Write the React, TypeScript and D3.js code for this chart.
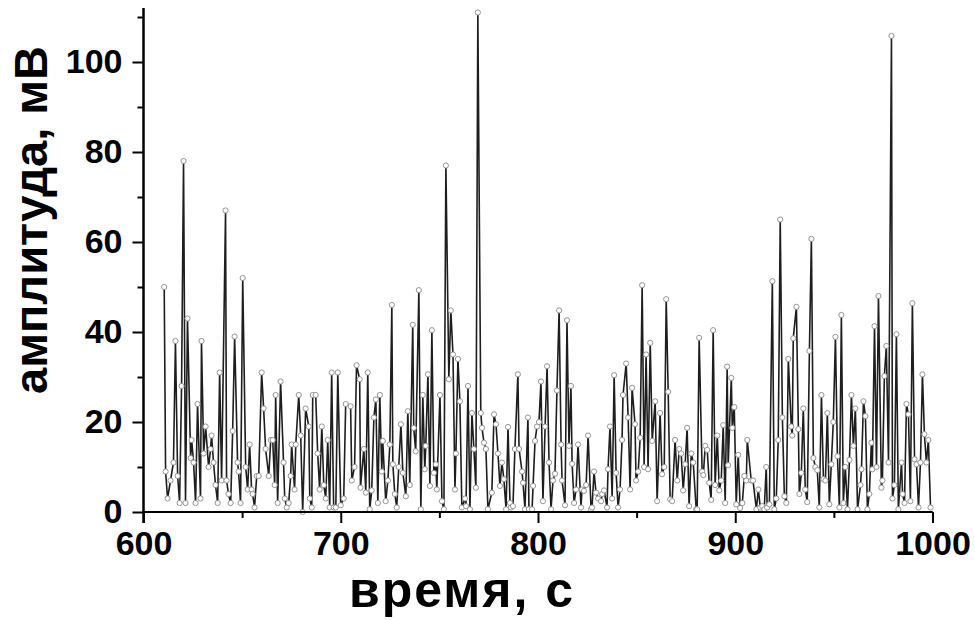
import React, { useEffect, useRef } from "react";
import * as d3 from "d3";

// [time s, amplitude mV], split by window
const window600: [number, number][] = [
  [610.5, 50], [611.2, 9], [612.2, 3], [613.7, 7], [615.2, 11], [616.2, 38], [617.3, 8], [618.3, 2], [619.3, 28], [620.3, 78],
  [621.3, 2], [622.3, 43], [623.9, 12], [624.4, 16], [625.4, 11], [626.4, 2], [627.4, 24], [628.9, 3], [629.4, 38], [630.5, 13],
  [631.5, 19], [633, 10], [634, 14], [634.5, 17], [635.5, 11], [636.5, 6], [637.6, 2], [638.6, 31], [639.6, 7], [641.6, 67],
  [642.1, 7], [643.1, 4], [644.2, 2], [645.2, 18], [646.2, 39], [647.7, 11], [648.2, 9], [649.2, 2], [650.3, 52], [651.8, 10],
  [652.8, 5], [653.8, 15], [654.8, 5], [655.3, 4], [656.3, 1], [657.4, 8], [658.4, 8], [659.9, 31], [660.9, 23], [661.9, 14],
  [663.5, 8], [664.5, 16], [665.5, 16], [666.5, 6], [667, 26], [668, 2], [669.5, 29], [671, 11], [671.6, 3], [672.6, 1],
  [673.6, 2], [674.6, 8], [675.1, 15], [676.6, 5], [677.2, 15], [678.7, 26], [679.7, 17], [680.7, 0], [682.2, 23], [683.8, 19],
  [684.3, 3], [685.3, 1], [685.8, 26], [687.3, 26], [688.3, 13], [689.3, 5], [690.4, 19], [691.4, 6], [692.4, 3], [693.4, 16],
  [694.4, 1], [695.4, 31], [696.4, 1], [697.5, 1], [698.5, 31], [700, 1.5], [701.5, 3], [702.5, 24],
];

const window700: [number, number][] = [
  [705, 23.5], [705.6, 7], [707, 10], [708, 32.6], [709.6, 29.5], [710, 5.4], [711.7, 14], [712.7, 4.3], [713.7, 31], [714.7, 0.6],
  [715.7, 4.8], [716.8, 21], [717.8, 25], [718.8, 2], [719.8, 26], [720.8, 9], [721.3, 15.8], [722.8, 2.4], [723.9, 7], [724.9, 15],
  [725.9, 46], [726.4, 10.6], [727.4, 4], [728.4, 1], [729.4, 10], [730.5, 19.5], [731.5, 8.7], [733, 3.5], [734, 22.4], [735, 6],
  [736.5, 41.6], [737, 18.7], [738, 13.5], [739.6, 49.3], [740.6, 0.6], [741.6, 26], [742.6, 9.5], [743.1, 14.7], [744.2, 30.6], [745.2, 5.8],
  [746.2, 40.4], [747.2, 8.7], [748.2, 10.6], [748.7, 5], [750.3, 26], [751.3, 2.4], [752.3, 0.6], [753.3, 77], [754.8, 29.5], [755.8, 44.8],
  [756.9, 35], [757.9, 5], [758.4, 13], [759.4, 34], [760.4, 24.6], [761.4, 1], [763, 3], [763.5, 1.3], [764.5, 28], [765.5, 0.6],
  [766.5, 22], [767.5, 14], [768.5, 5.4], [769.5, 111], [771, 22], [771.6, 18.7], [772.6, 15.4], [773.6, 14], [774.6, 0.6], [776.6, 4.3],
  [777.7, 21.7], [778.7, 19.5], [779.7, 13], [780.7, 5.8], [781.7, 11], [782.7, 7.3], [783.8, 0.6], [784.8, 18.9], [785.8, 2], [786.3, 1],
  [787.3, 1.3], [788.3, 14], [789.8, 30.6], [790.4, 14], [791.9, 9], [792.4, 6.5], [793.4, 0.6], [794.9, 21], [795.4, 0.6], [797, 0.6],
  [797.5, 5.8], [798.5, 15.8], [799.5, 19], [800.5, 20], [801.5, 29], [802.5, 2.4], [803.6, 19], [804.6, 32.4],
];

const window800: [number, number][] = [
  [805.6, 11], [806.6, 0.6], [807.6, 7], [808.6, 8.5], [809.6, 27], [810.7, 44.8], [811.7, 15], [812.2, 7], [813.7, 1.5], [814.7, 42.6],
  [815.7, 14.7], [816.7, 28], [817.3, 10.7], [818.3, 2], [819.3, 5], [820.3, 15], [821.8, 1], [822.3, 5], [823.3, 4.7], [824.4, 6],
  [825.4, 17], [826.9, 0.6], [827.4, 1], [828.4, 9], [829.4, 4.3], [830.5, 3], [832, 2.4], [832.5, 4], [833.5, 4.8], [835, 1],
  [835.5, 9.5], [836.5, 19], [837.6, 3], [838.6, 30.4], [839.6, 8.7], [840.6, 1], [841.6, 5], [842.6, 16], [843.1, 26], [844.7, 33],
  [845.7, 21], [846.7, 5], [847.7, 27.6], [849.2, 19.5], [849.7, 7], [850.8, 9], [851.8, 16.5], [852.8, 50.4], [853.8, 10], [854.8, 35],
  [855.8, 9.5], [856.9, 37.6], [857.9, 15.8], [859.4, 24.6], [860.4, 2.4], [861.9, 22], [862.9, 8.4], [864, 10], [865, 47.3], [866, 26.7],
  [867, 2.8], [868, 2.4], [869.5, 16], [870.6, 7], [871.6, 14], [872.6, 13], [873.6, 4.8], [874.6, 10.6], [875.6, 18.7], [876.6, 1.3],
  [877.7, 13], [878.7, 11], [880.2, 0.6], [880.7, 0.6], [881.7, 38.7], [883.2, 9], [883.8, 8.2], [884.8, 14.7], [885.8, 13.8], [886.8, 6.5],
  [887.8, 2.7], [888.8, 40.4], [889.8, 6], [890.9, 17], [891.9, 4.8], [892.9, 7], [893.9, 19.3], [894.9, 2], [895.9, 32.3], [896.4, 10.4],
  [898, 29.8], [898.5, 18.7], [899.5, 23.3], [900.5, 1.7], [901.5, 12.7], [902.5, 0.9], [903.6, 2], [904.6, 8], [905.6, 7], [906.1, 16],
];

const window900: [number, number][] = [
  [908.1, 7], [909, 7], [910.7, 0.6], [911.7, 5], [912.7, 1], [913.7, 1.3], [914.7, 0.6], [915.7, 10], [916.2, 1], [917.3, 1.7],
  [918.8, 51.3], [919.8, 0.6], [920.8, 3], [921.8, 16], [922.8, 65], [923.9, 21], [924.9, 3.5], [925.9, 2], [926.9, 34], [928.4, 19],
  [928.9, 17], [929.4, 38.6], [931, 45.6], [932, 18.4], [932.5, 4], [933.5, 8.7], [934.5, 23], [935.5, 5], [936.5, 2.2], [937.6, 35.8],
  [938.6, 60.7], [939.6, 12], [940.6, 10], [941.6, 9.3], [942.6, 1], [943.7, 26], [944.7, 7.3], [945.7, 7], [946.7, 22], [947.7, 1.7],
  [948.7, 10.6], [949.7, 20], [950.8, 38.9], [951.8, 12.4], [952.8, 1], [953.8, 43.8], [954.8, 2], [955.8, 10], [956.9, 0.6], [957.9, 11.6],
  [958.9, 26], [959.9, 14.7], [960.9, 23], [962, 0.6], [963.5, 6], [964, 9.5], [965, 24.6], [966, 21.3], [967, 0.6], [968, 4],
  [969, 15.4], [969.5, 9.5], [970.6, 41.3], [971.6, 10], [972.6, 48], [974.1, 5.4], [974.6, 7], [975.6, 30.2], [976.6, 36.9], [977.7, 11],
  [979.2, 105.8], [979.7, 3], [980.7, 6], [981.7, 39.5], [982.7, 0.6], [984.3, 11], [984.8, 4], [985.8, 2], [986.8, 24], [987.8, 21.7],
  [988.8, 2.4], [989.8, 46.4], [990.9, 11.7], [991.9, 10.6], [992.9, 1], [993.9, 11], [994.9, 30.6], [995.9, 17.3], [996.9, 11], [997.9, 16],
  [999, 1],
];

const xMajorTicks = [600, 700, 800, 900, 1000];
const xMinorTicks = [650, 750, 850, 950];
const yMajorTicks = [0, 20, 40, 60, 80, 100];
const yMinorTicks = [10, 30, 50, 70, 90, 110];

const xTitle = "время, с";
const yTitle = "амплитуда, мВ";

const FONT = "'Liberation Sans', Arial, sans-serif";

export default function App() {
  const ref = useRef<SVGSVGElement>(null);

  useEffect(() => {
    const svg = d3.select(ref.current);
    svg.selectAll("*").remove();

    const data = [...window600, ...window700, ...window800, ...window900];

    const left = 143.5, right = 932.5, bottom = 512, top = 8;
    const x = d3.scaleLinear().domain([600, 1000]).range([left, right]);
    const y = d3.scaleLinear().domain([0, 100]).range([bottom, 62]);

    // trace
    const line = d3.line<[number, number]>().x(d => x(d[0])).y(d => y(d[1]));
    svg.append("path").datum(data).attr("d", line)
      .attr("fill", "none").attr("stroke", "#1e1e1e").attr("stroke-width", 1.6);

    svg.append("g").selectAll("circle").data(data).join("circle")
      .attr("cx", d => x(d[0])).attr("cy", d => y(d[1])).attr("r", 2.6)
      .attr("fill", "#fff").attr("stroke", "#8a8a8a").attr("stroke-width", 0.9);

    // x axis
    const xg = svg.append("g").attr("transform", `translate(0,${bottom})`);
    xg.call(d3.axisBottom(x).tickValues(xMinorTicks).tickSize(6).tickFormat(() => ""));
    xg.call(g => g.append("g").call(d3.axisBottom(x).tickValues(xMajorTicks).tickSize(11).tickPadding(8).tickFormat(d3.format("d"))));
    xg.selectAll(".domain").attr("stroke", "#000").attr("stroke-width", 2).attr("d", `M${left},0H${right}`);
    xg.selectAll("line").attr("stroke", "#000").attr("stroke-width", 2);
    xg.selectAll("text").attr("font-family", FONT).attr("font-weight", "bold").attr("font-size", 34).attr("fill", "#000");

    // y axis
    const yg = svg.append("g").attr("transform", `translate(${left},0)`);
    yg.call(d3.axisLeft(y).tickValues(yMinorTicks).tickSize(6).tickFormat(() => ""));
    yg.call(g => g.append("g").call(d3.axisLeft(y).tickValues(yMajorTicks).tickSize(11).tickPadding(10).tickFormat(d3.format("d"))));
    yg.selectAll(".domain").attr("stroke", "#000").attr("stroke-width", 2).attr("d", `M0,${top}V${bottom + 11}`);
    yg.selectAll("line").attr("stroke", "#000").attr("stroke-width", 2);
    yg.selectAll("text").attr("font-family", FONT).attr("font-weight", "bold").attr("font-size", 34).attr("fill", "#000");

    // titles
    svg.append("text").attr("x", 462).attr("y", 607).attr("text-anchor", "middle")
      .attr("font-family", FONT).attr("font-weight", "bold").attr("font-size", 50)
      .attr("letter-spacing", 2).text(xTitle);
    svg.append("text").attr("transform", "translate(47,220) rotate(-90)").attr("text-anchor", "middle")
      .attr("font-family", FONT).attr("font-weight", "bold").attr("font-size", 47).text(yTitle);

    return () => { svg.selectAll("*").remove(); };
  }, []);

  return (
    <svg ref={ref} width={975} height={620}
      style={{ position: "absolute", left: 0, top: 0, background: "#fff" }} />
  );
}
